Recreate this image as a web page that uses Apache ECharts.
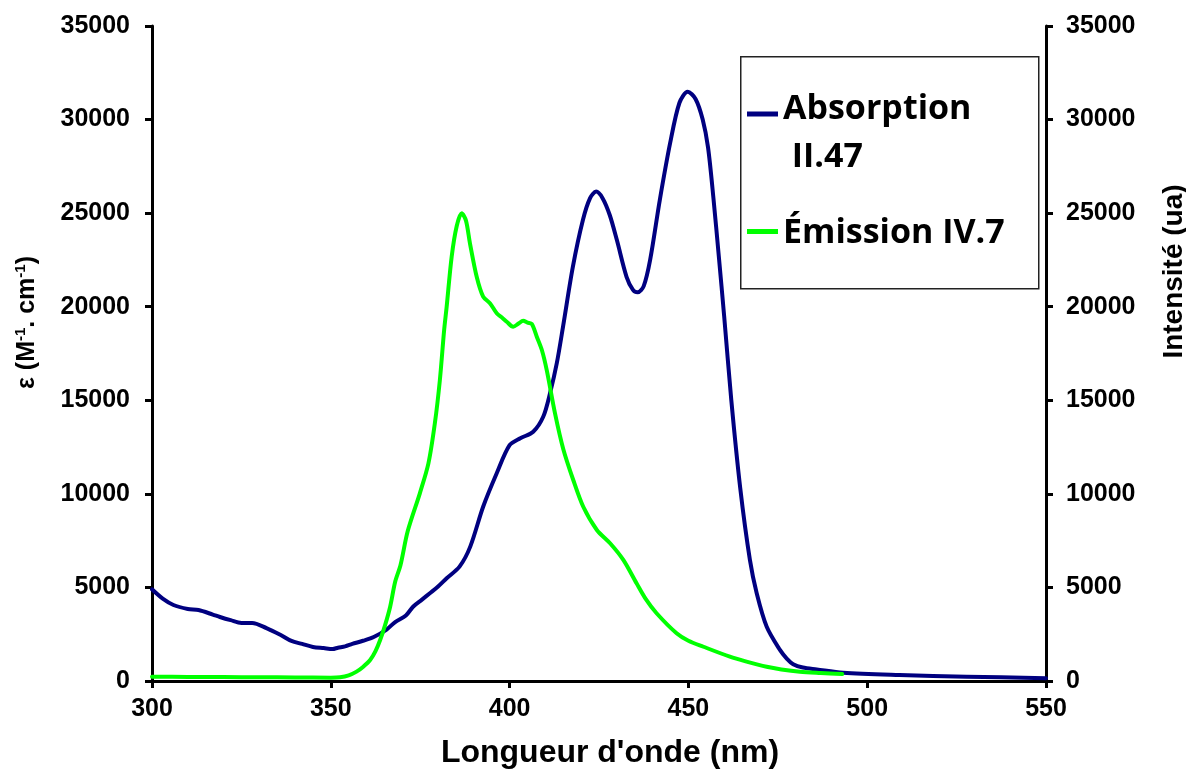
<!DOCTYPE html>
<html>
<head>
<meta charset="utf-8">
<script src="https://cdn.jsdelivr.net/npm/echarts@6/dist/echarts.min.js"></script>
<style>
html,body{margin:0;padding:0;background:#fff;}
#chart{width:1186px;height:769px;}
</style>
</head>
<body>
<div id="chart"></div>
<script>
// Absorption II.47 (left axis, ε)
const absWavelength = [300,303,306,310,313,317,319,322,325,328,332,336,339,342,345,348,350.5,352,354,356,359,362,365.6,368,371,373,375.5,377.7,380,382.4,386,389,392.6,396.4,400,403,406.6,409.4,411.3,413.2,415,417.7,420.5,422.5,424.2,426,428,430,432.7,434.5,435.8,437.5,439.3,442,444.9,447.5,449.8,452,454,455.5,457,458.5,460,462,464.5,467.2,469.1,471.9,475.6,477.5,479.3,482,485.9,493.3,509,527.8,550];
const absValues = [4900,4400,4060,3850,3790,3550,3420,3250,3100,3100,2830,2460,2140,1980,1820,1760,1710,1780,1850,1980,2150,2350,2750,3150,3500,3970,4350,4690,5050,5490,6110,7180,9310,11100,12600,12970,13320,14120,15370,16980,19000,22140,24630,25800,26150,25800,24900,23560,21600,20900,20770,21100,22500,25700,28750,30900,31490,31100,30000,28500,25800,22700,19500,15000,10300,6470,4690,2900,1660,1200,900,720,620,440,320,230,150];

// Émission IV.7 (right axis, intensité)
const emWavelength = [300,310,320,330,340,350,352.6,355,357.2,359,361,362.5,363.8,365.2,366.6,368,369.5,371.5,374.9,377.3,379.1,380.5,381.7,382.4,383.8,385.2,386.6,387.8,388.9,390.8,392.6,394.5,396.4,398,399.2,401,402.5,403.8,405,406.2,407.6,409,410.4,412.7,415,417.8,420.6,424.4,428.1,431.8,435.5,438,441.1,446.7,450,454.2,461.6,466,471.9,476,481.2,487,493];
const emValues = [230,220,210,200,190,180,200,300,500,750,1120,1600,2190,3000,3970,5300,6200,8000,10030,11630,13770,16080,18760,20000,22670,24300,24990,24600,23400,21600,20540,20190,19650,19400,19200,18930,19100,19250,19150,19080,18400,17700,16600,14300,12400,10740,9310,8070,7360,6470,5220,4400,3620,2550,2150,1830,1300,1050,760,620,500,430,370];

const xTicks = {min: 300, max: 550, interval: 50};
const yTicks = {min: 0, max: 35000, interval: 5000};
const seriesNames = ['Absorption II.47', 'Émission IV.7'];

const absData = absWavelength.map((x, i) => [x, absValues[i]]);
const emData = emWavelength.map((x, i) => [x, emValues[i]]);

const FONT = "'Liberation Sans', Arial, sans-serif";
const axisLine = {show: true, onZero: false, lineStyle: {color: '#000', width: 3}};
const axisTick = {show: true, inside: false, length: 7, lineStyle: {color: '#000', width: 3}};
const tickLabel = {color: '#000', fontSize: 25, fontWeight: 'bold', fontFamily: FONT, formatter: v => String(v)};

// legend icons: a 5px bar placed inside a taller invisible box so it lines up with the text line
const iconTop = 'path://M0,5 L31,5 L31,10 L0,10 Z M0,0 L0.01,0 L0.01,0.01 Z M0,53 L0.01,53 L0.01,52.99 Z';
const iconMid = 'path://M0,22 L31,22 L31,27 L0,27 Z M0,0 L0.01,0 L0.01,0.01 Z M0,53 L0.01,53 L0.01,52.99 Z';

const chart = echarts.init(document.getElementById('chart'), null, {renderer: 'canvas'});
chart.setOption({
  animation: false,
  backgroundColor: '#fff',
  grid: {left: 152, right: 140, top: 26, bottom: 88, containLabel: false, outerBoundsMode: 'none'},
  graphic: [{
    type: 'rect', left: 740, top: 56, z: 1,
    shape: {width: 298, height: 232},
    style: {fill: '#fff', stroke: '#222', lineWidth: 1.5}
  }],
  legend: {
    orient: 'vertical', left: 747, top: 85, padding: 0, itemGap: 26,
    itemWidth: 31, itemHeight: 53, z: 10, symbolKeepAspect: false,
    itemStyle: {borderWidth: 0},
    data: [
      {name: seriesNames[0], icon: iconTop},
      {name: seriesNames[1], icon: iconMid}
    ],
    formatter: n => n === seriesNames[0] ? 'Absorption\n II.47' : n,
    textStyle: {color: '#000', fontSize: 34, fontWeight: 'bold', fontFamily: "'Open Sans', sans-serif", lineHeight: 48}
  },
  xAxis: {
    type: 'value', min: xTicks.min, max: xTicks.max, interval: xTicks.interval,
    axisLine: axisLine, axisTick: axisTick, splitLine: {show: false},
    axisLabel: Object.assign({margin: 16}, tickLabel),
    name: "Longueur d'onde (nm)", nameLocation: 'middle', nameGap: 56,
    nameTextStyle: {color: '#000', fontSize: 32, fontWeight: 'bold', fontFamily: FONT, padding: [0, 0, 0, 22]}
  },
  yAxis: [{
    type: 'value', position: 'left', min: yTicks.min, max: yTicks.max, interval: yTicks.interval,
    axisLine: axisLine, axisTick: axisTick, splitLine: {show: false},
    axisLabel: Object.assign({margin: 22}, tickLabel),
    name: '{b|ε (M}{sup|-1}{b|. cm}{sup|-1}{b|)}', nameLocation: 'middle', nameGap: 110,
    nameTextStyle: {
      color: '#000', fontSize: 25, fontWeight: 'bold', fontFamily: FONT, padding: [0, 0, 0, 62],
      rich: {
        b: {fontSize: 25, fontWeight: 'bold', fontFamily: FONT, color: '#000', lineHeight: 29},
        sup: {fontSize: 15, fontWeight: 'bold', fontFamily: FONT, color: '#000', verticalAlign: 'top', lineHeight: 15}
      }
    }
  }, {
    type: 'value', position: 'right', min: yTicks.min, max: yTicks.max, interval: yTicks.interval,
    axisLine: axisLine, axisTick: axisTick, splitLine: {show: false},
    axisLabel: Object.assign({margin: 20}, tickLabel),
    name: 'Intensité (ua)', nameLocation: 'middle', nameGap: 114,
    nameTextStyle: {color: '#000', fontSize: 28, fontWeight: 'bold', fontFamily: FONT, padding: [0, 0, 0, 164]}
  }],
  series: [{
    name: seriesNames[0], type: 'line', yAxisIndex: 0, data: absData,
    symbol: 'none', smooth: 0.3, lineStyle: {color: '#000080', width: 4, cap: 'round', join: 'round'},
    itemStyle: {color: '#000080'}, z: 2
  }, {
    name: seriesNames[1], type: 'line', yAxisIndex: 1, data: emData,
    symbol: 'none', smooth: 0.3, lineStyle: {color: '#00FF00', width: 4, cap: 'round', join: 'round'},
    itemStyle: {color: '#00FF00'}, z: 3
  }]
});
</script>
</body>
</html>
